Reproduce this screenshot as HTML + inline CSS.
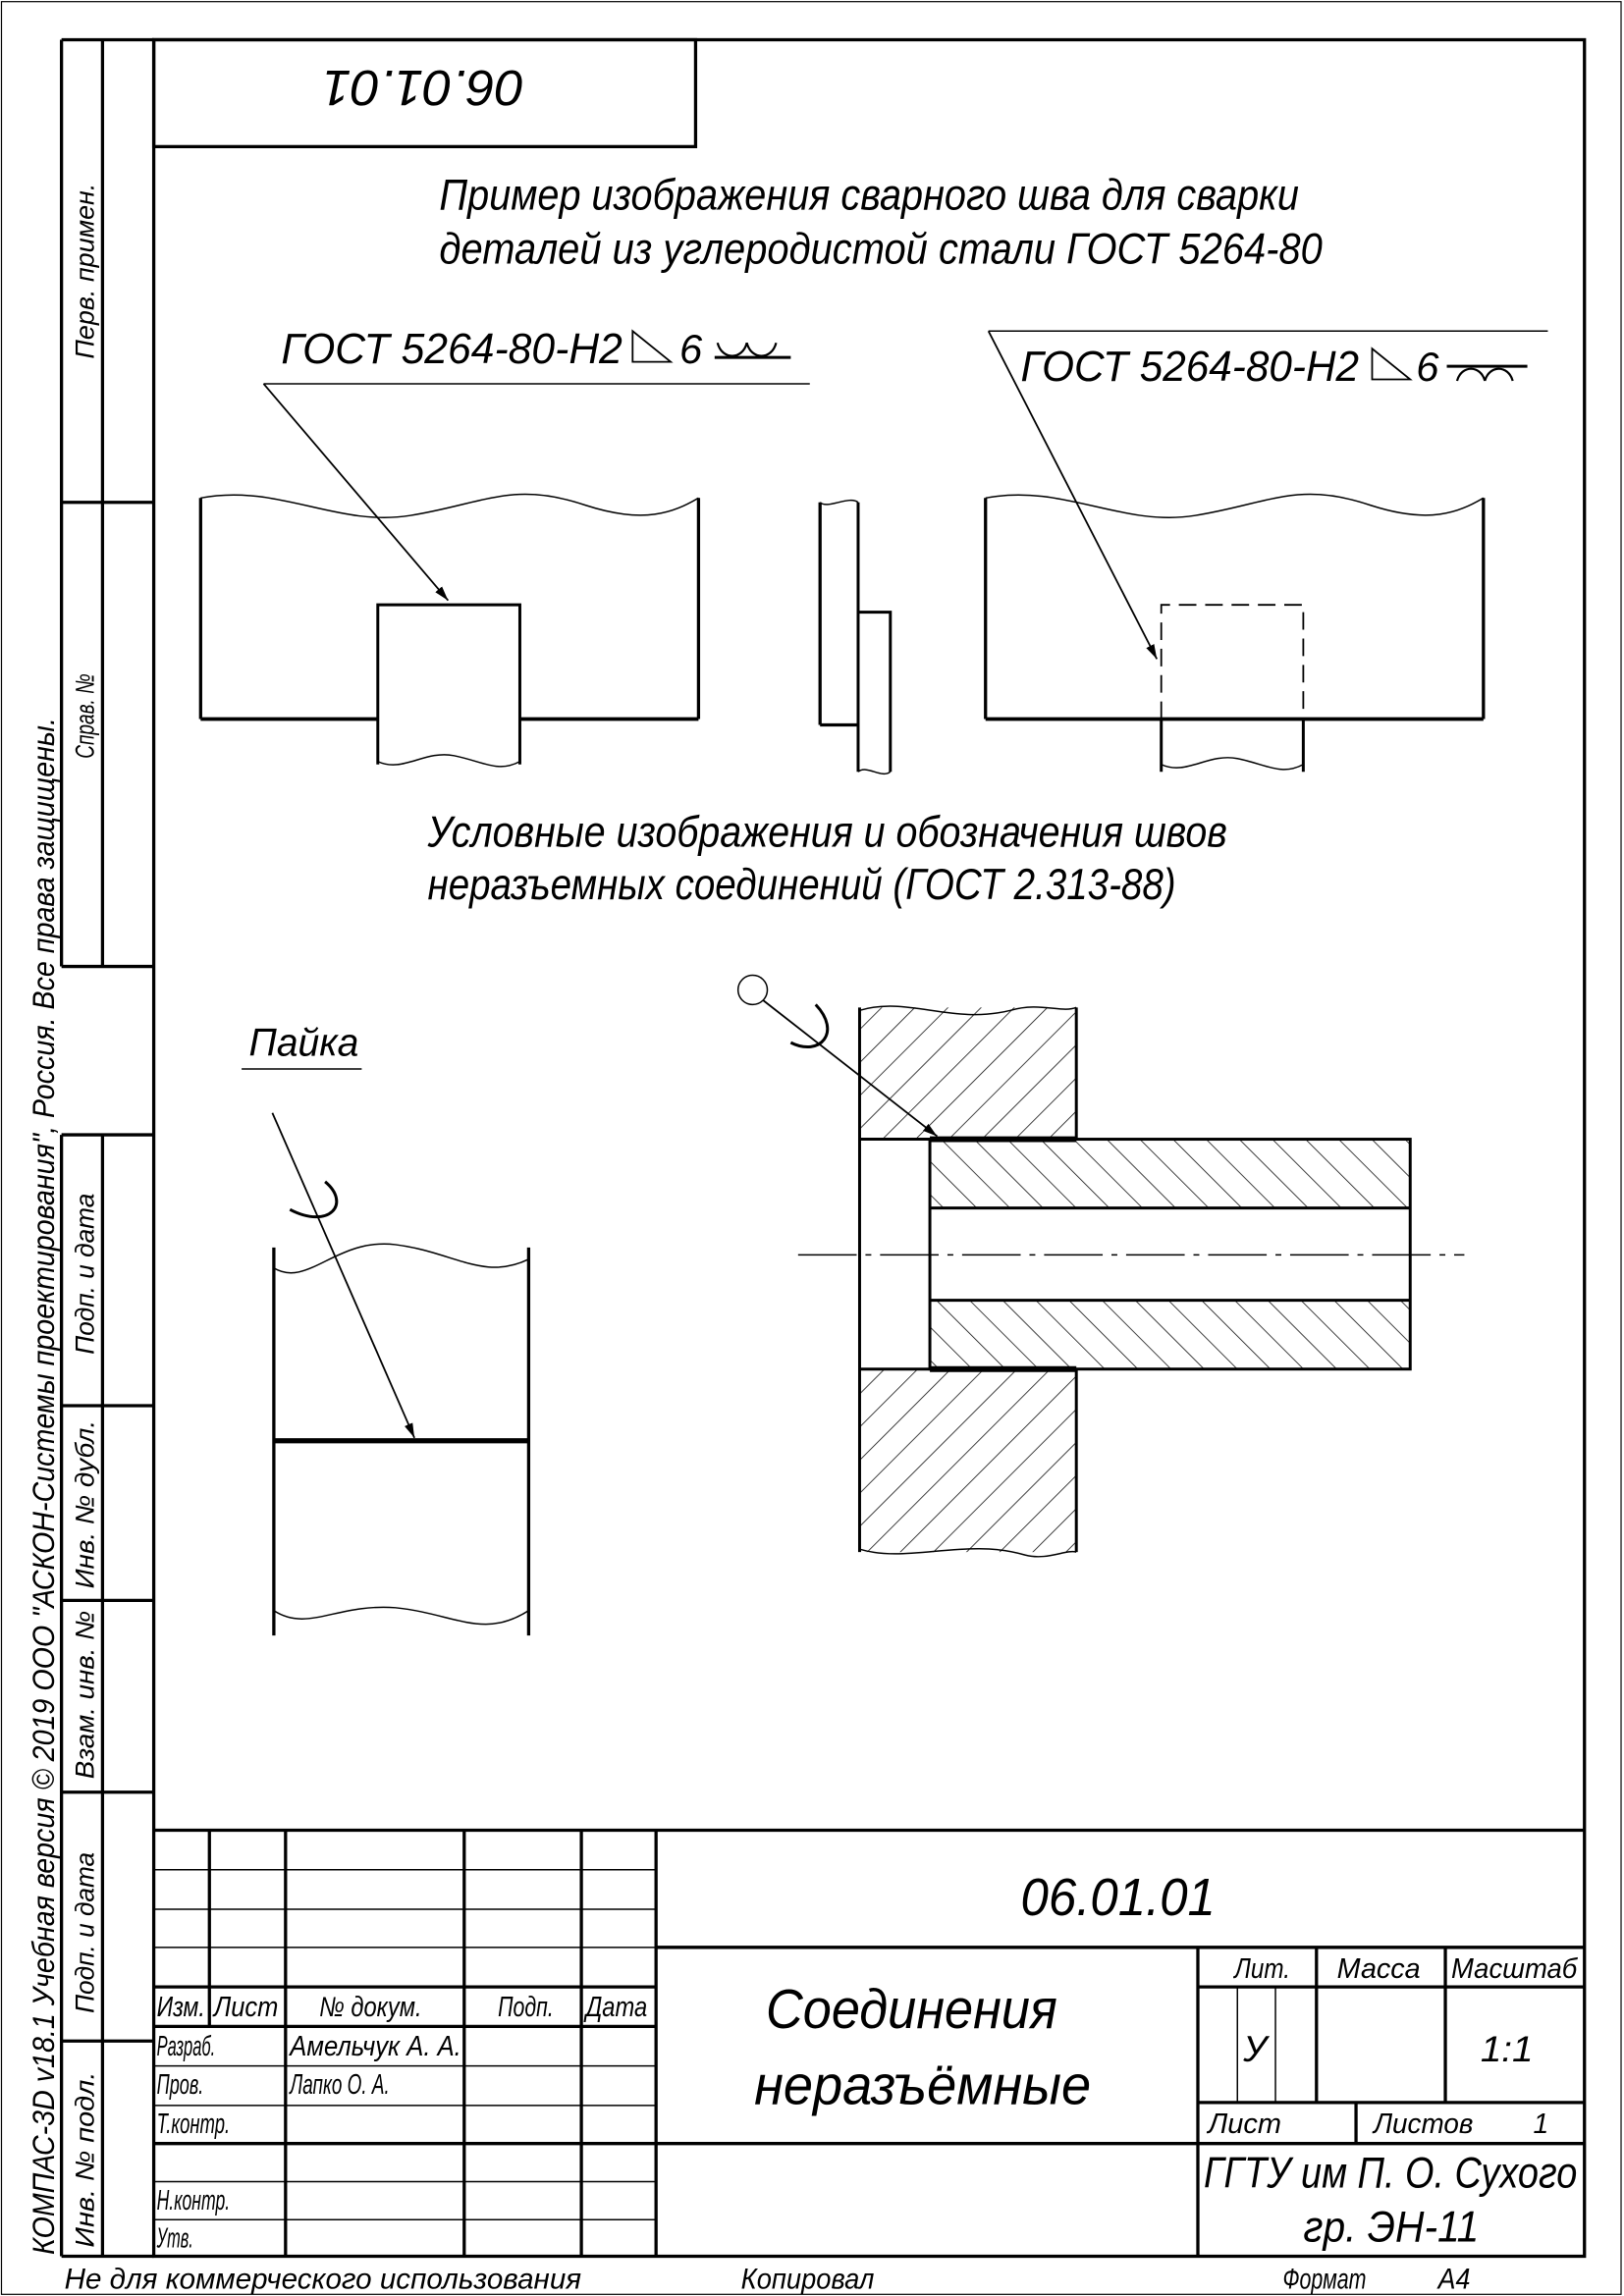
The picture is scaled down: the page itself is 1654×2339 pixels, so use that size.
<!DOCTYPE html>
<html><head><meta charset="utf-8">
<style>
html,body{margin:0;padding:0;background:#fff}
svg{display:block}
text{font-family:"Liberation Sans Narrow","Liberation Sans","DejaVu Sans",sans-serif;font-style:italic;fill:#000}
</style></head>
<body>
<svg width="1654" height="2339" viewBox="0 0 1109 1568" xmlns="http://www.w3.org/2000/svg">
<defs>
<pattern id="h1" patternUnits="userSpaceOnUse" width="16" height="16" patternTransform="rotate(45)"><line x1="0" y1="0" x2="0" y2="16" stroke="#000" stroke-width="1"/></pattern>
<pattern id="h2" patternUnits="userSpaceOnUse" width="16" height="16" patternTransform="rotate(-45)"><line x1="0" y1="0" x2="0" y2="16" stroke="#000" stroke-width="1"/></pattern>
<marker id="arr" markerWidth="10" markerHeight="6" refX="10" refY="3" orient="auto" markerUnits="userSpaceOnUse"><path d="M0,0 L10,3 L0,6 Z" fill="#000"/></marker>
</defs>
<rect x="0" y="0" width="1109" height="1568" fill="#fff"/>
<rect x="1" y="1" width="1106" height="1566" fill="none" stroke="#000" stroke-width="0.8"/>
<g fill="none" stroke="#000" stroke-width="2.2">
<rect x="105" y="27" width="977" height="1514"/>
<line x1="42" y1="27" x2="105" y2="27"/>
<line x1="42" y1="27" x2="42" y2="660"/>
<line x1="70" y1="27" x2="70" y2="660"/>
<line x1="42" y1="343" x2="105" y2="343"/>
<line x1="42" y1="660" x2="105" y2="660"/>
<line x1="42" y1="775" x2="105" y2="775"/>
<line x1="42" y1="775" x2="42" y2="1541"/>
<line x1="70" y1="775" x2="70" y2="1541"/>
<line x1="42" y1="960" x2="105" y2="960"/>
<line x1="42" y1="1093" x2="105" y2="1093"/>
<line x1="42" y1="1224" x2="105" y2="1224"/>
<line x1="42" y1="1394" x2="105" y2="1394"/>
<line x1="42" y1="1541" x2="105" y2="1541"/>
<rect x="105" y="27" width="370" height="73"/>
</g>
<g font-size="18">
<text transform="translate(64,245) rotate(-90)" textLength="120" lengthAdjust="spacingAndGlyphs">Перв. примен.</text>
<text transform="translate(64,518) rotate(-90)" textLength="58" lengthAdjust="spacingAndGlyphs">Справ. №</text>
<text transform="translate(64,925) rotate(-90)" textLength="110" lengthAdjust="spacingAndGlyphs">Подп. и дата</text>
<text transform="translate(64,1085) rotate(-90)" textLength="115" lengthAdjust="spacingAndGlyphs">Инв. № дубл.</text>
<text transform="translate(64,1215) rotate(-90)" textLength="115" lengthAdjust="spacingAndGlyphs">Взам. инв. №</text>
<text transform="translate(64,1375) rotate(-90)" textLength="110" lengthAdjust="spacingAndGlyphs">Подп. и дата</text>
<text transform="translate(64,1535) rotate(-90)" textLength="120" lengthAdjust="spacingAndGlyphs">Инв. № подл.</text>
<text transform="translate(37,1540) rotate(-90)" font-size="21" textLength="1050" lengthAdjust="spacingAndGlyphs">КОМПАС-3D v18.1 Учебная версия © 2019 ООО "АСКОН-Системы проектирования", Россия. Все права защищены.</text>
</g>
<text transform="translate(358,48) rotate(180)" font-size="34" textLength="138" lengthAdjust="spacingAndGlyphs">06.01.01</text>

<g font-size="30">
<text x="300" y="143" textLength="587" lengthAdjust="spacingAndGlyphs">Пример изображения сварного шва для сварки</text>
<text x="300" y="180" textLength="603" lengthAdjust="spacingAndGlyphs">деталей из углеродистой стали ГОСТ 5264-80</text>
<text x="292" y="578" textLength="546" lengthAdjust="spacingAndGlyphs">Условные изображения и обозначения швов</text>
<text x="292" y="614" textLength="511" lengthAdjust="spacingAndGlyphs">неразъемных соединений (ГОСТ 2.313-88)</text>
</g>

<g fill="none" stroke="#000">
<text x="192" y="248" font-size="29" stroke="none" textLength="233" lengthAdjust="spacingAndGlyphs">ГОСТ 5264-80-Н2</text>
<path d="M432,247 L432,226 L458,247 Z" stroke-width="1.2"/>
<text x="464" y="248" font-size="28" stroke="none">6</text>
<path d="M490,234 C493,246 507,246 510,234 M510,234 C513,246 527,246 530,234" stroke-width="1.5"/>
<line x1="488" y1="244" x2="540" y2="244" stroke-width="2"/>
<line x1="180" y1="262" x2="553" y2="262" stroke-width="1"/>
<line x1="180" y1="262" x2="306" y2="410" stroke-width="1.2" marker-end="url(#arr)"/>
<path d="M137,340 C190,330 230,360 280,352 C330,344 350,328 400,345 C440,358 460,350 477,340" stroke-width="1"/>
<line x1="137" y1="340" x2="137" y2="491" stroke-width="2.2"/>
<line x1="477" y1="340" x2="477" y2="491" stroke-width="2.2"/>
<line x1="137" y1="491" x2="258" y2="491" stroke-width="2.5"/>
<line x1="355" y1="491" x2="477" y2="491" stroke-width="2.5"/>
<path d="M258,522 L258,413 L355,413 L355,522" stroke-width="2"/>
<path d="M258,520 C275,528 290,512 310,516 C330,520 340,528 355,520" stroke-width="1"/>
</g>
<g fill="none" stroke="#000">
<path d="M560,343 C565,348 580,338 586,343" stroke-width="1"/>
<line x1="560" y1="343" x2="560" y2="495" stroke-width="2.2"/>
<line x1="586" y1="343" x2="586" y2="527" stroke-width="2"/>
<line x1="560" y1="495" x2="586" y2="495" stroke-width="2.2"/>
<path d="M586,418 L608,418 L608,527" stroke-width="2"/>
<path d="M586,527 C592,522 602,532 608,527" stroke-width="1"/>
</g>
<g fill="none" stroke="#000">
<text x="697" y="260" font-size="29" stroke="none" textLength="231" lengthAdjust="spacingAndGlyphs">ГОСТ 5264-80-Н2</text>
<path d="M937,259 L937,238 L963,259 Z" stroke-width="1.2"/>
<text x="967" y="260" font-size="28" stroke="none">6</text>
<line x1="988" y1="250" x2="1043" y2="250" stroke-width="2"/>
<path d="M995,260 C998,249 1011,249 1014,260 M1014,260 C1017,249 1030,249 1033,260" stroke-width="1.5"/>
<line x1="675" y1="226" x2="1057" y2="226" stroke-width="1"/>
<line x1="675" y1="226" x2="790" y2="450" stroke-width="1.2" marker-end="url(#arr)"/>
<path d="M673,340 C726,330 766,360 816,352 C866,344 886,328 936,345 C976,358 996,350 1013,340" stroke-width="1"/>
<line x1="673" y1="340" x2="673" y2="491" stroke-width="2.2"/>
<line x1="1013" y1="340" x2="1013" y2="491" stroke-width="2.2"/>
<line x1="673" y1="491" x2="1013" y2="491" stroke-width="2.5"/>
<path d="M793,491 L793,413 L890,413 L890,491" stroke-width="1.2" stroke-dasharray="12,6"/>
<path d="M793,491 L793,527 M890,491 L890,527" stroke-width="2"/>
<path d="M793,522 C810,530 825,514 845,518 C865,522 875,530 890,522" stroke-width="1"/>
</g>

<g fill="none" stroke="#000">
<text x="170" y="721" font-size="27" stroke="none" textLength="75" lengthAdjust="spacingAndGlyphs">Пайка</text>
<line x1="165" y1="730" x2="247" y2="730" stroke-width="1"/>
<line x1="186" y1="760" x2="283" y2="982" stroke-width="1.2" marker-end="url(#arr)"/>
<path d="M222,807 C240,822 225,840 198,826" stroke-width="2"/>
<path d="M187,866 C210,880 230,845 270,850 C310,855 330,875 361,860" stroke-width="1"/>
<line x1="187" y1="852" x2="187" y2="1117" stroke-width="2.2"/>
<line x1="361" y1="852" x2="361" y2="1117" stroke-width="2.2"/>
<line x1="187" y1="984" x2="361" y2="984" stroke-width="3.5"/>
<path d="M187,1100 C210,1115 230,1095 270,1098 C310,1102 330,1120 361,1100" stroke-width="1"/>
</g>

<g stroke="#000">
<rect x="587" y="688" width="148" height="90" fill="url(#h1)" stroke="none"/>
<rect x="587" y="935" width="148" height="125" fill="url(#h1)" stroke="none"/>
<rect x="635" y="778" width="328" height="47" fill="url(#h2)" stroke="none"/>
<rect x="635" y="888" width="328" height="47" fill="url(#h2)" stroke="none"/>
<g fill="none" stroke-width="2">
<path d="M735,688 L735,778 M587,688 L587,1060 M735,935 L735,1060"/>
<rect x="635" y="778" width="328" height="157"/>
<line x1="635" y1="825" x2="963" y2="825"/>
<line x1="635" y1="888" x2="963" y2="888"/>
<line x1="587" y1="778" x2="635" y2="778"/>
<line x1="587" y1="935" x2="635" y2="935"/>
<line x1="635" y1="778" x2="735" y2="778" stroke-width="4"/>
<line x1="635" y1="935" x2="735" y2="935" stroke-width="4"/>
</g>
<path d="M587,690 C620,680 650,700 690,690 C710,684 725,692 735,688 M587,1058 C620,1068 660,1050 700,1062 C715,1066 728,1058 735,1060" fill="none" stroke-width="1"/>
<line x1="545" y1="857" x2="1000" y2="857" stroke-width="1" stroke-dasharray="40,6,4,6"/>
<circle cx="514" cy="676" r="10" fill="#fff" stroke-width="1"/>
<line x1="521" y1="683" x2="640" y2="776" stroke-width="1.2" marker-end="url(#arr)"/>
<path d="M557,686 C575,705 560,722 540,712" fill="none" stroke-width="2"/>
</g>

<g fill="none" stroke="#000" stroke-width="2.2">
<line x1="105" y1="1250" x2="1082" y2="1250"/>
<g stroke-width="1">
<line x1="105" y1="1277" x2="448" y2="1277"/>
<line x1="105" y1="1304" x2="448" y2="1304"/>
<line x1="105" y1="1330" x2="448" y2="1330"/>
<line x1="105" y1="1411" x2="448" y2="1411"/>
<line x1="105" y1="1438" x2="448" y2="1438"/>
<line x1="105" y1="1490" x2="448" y2="1490"/>
<line x1="105" y1="1516" x2="448" y2="1516"/>
</g>
<line x1="105" y1="1357" x2="448" y2="1357"/>
<line x1="105" y1="1384" x2="448" y2="1384"/>
<line x1="105" y1="1464" x2="1082" y2="1464"/>
<line x1="143" y1="1250" x2="143" y2="1384"/>
<line x1="195" y1="1250" x2="195" y2="1541"/>
<line x1="317" y1="1250" x2="317" y2="1541"/>
<line x1="397" y1="1250" x2="397" y2="1541"/>
<line x1="448" y1="1250" x2="448" y2="1541"/>
<line x1="448" y1="1330" x2="1082" y2="1330"/>
<line x1="818" y1="1330" x2="818" y2="1541"/>
<line x1="818" y1="1357" x2="1082" y2="1357"/>
<line x1="899" y1="1330" x2="899" y2="1436"/>
<line x1="987" y1="1330" x2="987" y2="1436"/>
<line x1="818" y1="1436" x2="1082" y2="1436"/>
<line x1="926" y1="1436" x2="926" y2="1464"/>
<line x1="845" y1="1357" x2="845" y2="1436" stroke-width="1"/>
<line x1="871" y1="1357" x2="871" y2="1436" stroke-width="1"/>
</g>
<g font-size="19">
<text x="107" y="1377" textLength="33" lengthAdjust="spacingAndGlyphs">Изм.</text><text x="146" y="1377" textLength="44" lengthAdjust="spacingAndGlyphs">Лист</text>
<text x="218" y="1377" textLength="70" lengthAdjust="spacingAndGlyphs">№ докум.</text><text x="340" y="1377" textLength="38" lengthAdjust="spacingAndGlyphs">Подп.</text><text x="400" y="1377" textLength="42" lengthAdjust="spacingAndGlyphs">Дата</text>
<text x="107" y="1404" textLength="40" lengthAdjust="spacingAndGlyphs">Разраб.</text><text x="198" y="1404" textLength="117" lengthAdjust="spacingAndGlyphs">Амельчук А. А.</text>
<text x="107" y="1430" textLength="32" lengthAdjust="spacingAndGlyphs">Пров.</text><text x="198" y="1430" textLength="68" lengthAdjust="spacingAndGlyphs">Лапко О. А.</text>
<text x="107" y="1457" textLength="50" lengthAdjust="spacingAndGlyphs">Т.контр.</text>
<text x="107" y="1509" textLength="50" lengthAdjust="spacingAndGlyphs">Н.контр.</text>
<text x="107" y="1535" textLength="25" lengthAdjust="spacingAndGlyphs">Утв.</text>
<text x="697" y="1308" font-size="36" textLength="133" lengthAdjust="spacingAndGlyphs">06.01.01</text>
<text x="523" y="1385" font-size="38" textLength="199" lengthAdjust="spacingAndGlyphs">Соединения</text>
<text x="515" y="1437" font-size="38" textLength="230" lengthAdjust="spacingAndGlyphs">неразъёмные</text>
<text x="843" y="1351" textLength="38" lengthAdjust="spacingAndGlyphs">Лит.</text><text x="913" y="1351" textLength="57" lengthAdjust="spacingAndGlyphs">Масса</text><text x="991" y="1351" textLength="86" lengthAdjust="spacingAndGlyphs">Масштаб</text>
<text x="849" y="1408" font-size="25">У</text>
<text x="1011" y="1408" font-size="25" textLength="36" lengthAdjust="spacingAndGlyphs">1:1</text>
<text x="825" y="1457" textLength="50" lengthAdjust="spacingAndGlyphs">Лист</text><text x="938" y="1457" textLength="68" lengthAdjust="spacingAndGlyphs">Листов</text><text x="1047" y="1457">1</text>
<text x="822" y="1494" font-size="30" textLength="255" lengthAdjust="spacingAndGlyphs">ГГТУ им П. О. Сухого</text>
<text x="890" y="1531" font-size="30" textLength="120" lengthAdjust="spacingAndGlyphs">гр. ЭН-11</text>
</g>
<g font-size="20">
<text x="44" y="1563" textLength="353" lengthAdjust="spacingAndGlyphs">Не для коммерческого использования</text>
<text x="506" y="1563" textLength="91" lengthAdjust="spacingAndGlyphs">Копировал</text>
<text x="876" y="1563" textLength="57" lengthAdjust="spacingAndGlyphs">Формат</text>
<text x="982" y="1563" textLength="22" lengthAdjust="spacingAndGlyphs">А4</text>
</g>
</svg>
</body></html>
